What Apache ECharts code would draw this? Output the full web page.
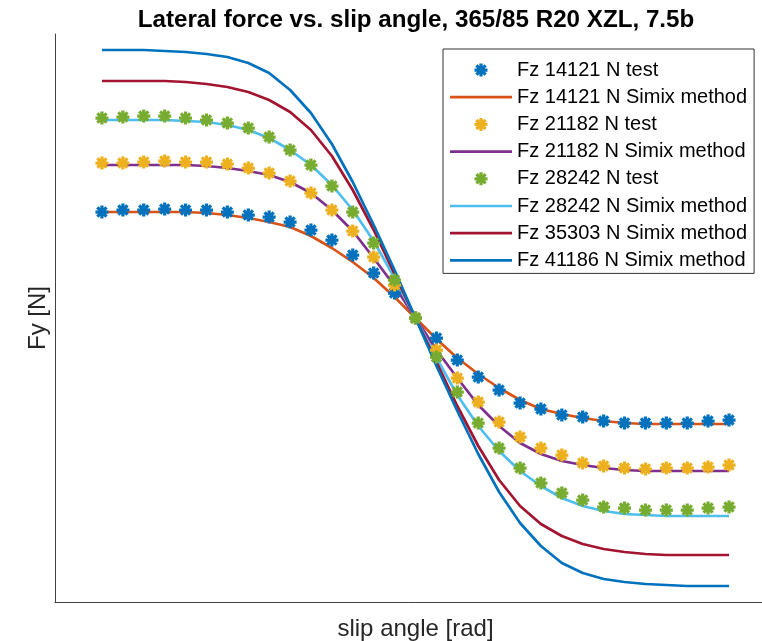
<!DOCTYPE html>
<html>
<head>
<meta charset="utf-8">
<script src="https://cdn.jsdelivr.net/npm/echarts@6/dist/echarts.min.js"></script>
<style>
html,body{margin:0;padding:0;background:#fff;overflow:hidden;}
#chart{width:762px;height:641px;}
</style>
</head>
<body>
<div id="chart"></div>
<script>
// slip angle [rad]
const slipAngle = [-0.2618,-0.2443,-0.2269,-0.2094,-0.1920,-0.1745,-0.1571,-0.1396,-0.1222,-0.1047,-0.0873,-0.0698,-0.0524,-0.0349,-0.0175,0,0.0175,0.0349,0.0524,0.0698,0.0873,0.1047,0.1222,0.1396,0.1571,0.1745,0.1920,0.2094,0.2269,0.2443,0.2618];

// measured lateral force Fy [N]
const test14121 = [10600,10800,10800,10900,10800,10800,10600,10300,10100,9600,8800,7800,6300,4500,2500,0,-2000,-4200,-5900,-7200,-8500,-9100,-9700,-9900,-10300,-10500,-10500,-10500,-10500,-10300,-10200];
const test21182 = [15500,15500,15600,15700,15600,15600,15400,15000,14500,13700,12500,10800,8700,6100,3300,0,-3200,-6000,-8400,-10400,-11900,-13000,-13700,-14500,-14800,-15000,-15100,-15000,-15000,-14900,-14700];
const test28242 = [20000,20100,20200,20200,20000,19800,19500,19000,18100,16800,15300,13200,10600,7500,3800,0,-3900,-7400,-10500,-13000,-15000,-16500,-17500,-18200,-18900,-19000,-19200,-19200,-19200,-19000,-18900];

// Simix method Fy [N]
const simix14121 = [10600,10600,10600,10600,10600,10500,10300,10000,9600,9100,8200,7000,5600,4000,2100,0,-2100,-4000,-5600,-7000,-8200,-9100,-9600,-10000,-10300,-10500,-10600,-10600,-10600,-10600,-10600];
const simix21182 = [15300,15300,15300,15300,15300,15200,15000,14700,14300,13600,12500,10800,8700,6000,3200,0,-3200,-6000,-8700,-10800,-12500,-13600,-14300,-14700,-15000,-15200,-15300,-15300,-15300,-15300,-15300];
const simix28242 = [19800,19800,19800,19800,19700,19600,19300,18800,18000,16800,15300,13300,10800,7700,4000,0,-4000,-7700,-10800,-13300,-15300,-16800,-18000,-18800,-19300,-19600,-19700,-19800,-19800,-19800,-19800];
const simix35303 = [23700,23700,23700,23700,23600,23400,23100,22600,21800,20600,18800,16200,12800,8800,4400,0,-4400,-8800,-12800,-16200,-18800,-20600,-21800,-22600,-23100,-23400,-23600,-23700,-23700,-23700,-23700];
const simix41186 = [26800,26800,26800,26700,26600,26400,26100,25500,24500,22800,20500,17400,13600,9300,4800,0,-4800,-9300,-13600,-17400,-20500,-22800,-24500,-25500,-26100,-26400,-26600,-26700,-26800,-26800,-26800];

const seriesNames = [
  'Fz 14121 N test','Fz 14121 N Simix method',
  'Fz 21182 N test','Fz 21182 N Simix method',
  'Fz 28242 N test','Fz 28242 N Simix method',
  'Fz 35303 N Simix method','Fz 41186 N Simix method'
];

const FONT = '"Liberation Sans", Arial, Helvetica, sans-serif';
const ASTERISK = 'path://M-10,-2.5L10,-2.5L10,2.5L-10,2.5Z M-2.5,-10L2.5,-10L2.5,10L-2.5,10Z M5.30,8.84L-8.84,-5.30L-5.30,-8.84L8.84,5.30Z M8.84,-5.30L-5.30,8.84L-8.84,5.30L5.30,-8.84Z';
const LINE_ICON = 'path://M0,0L62,0L62,2.7L0,2.7Z';

function pairs(ys){ return slipAngle.map((x,i)=>[x, ys[i]]); }
function testSeries(name, ys, color){
  return {name, type:'scatter', data:pairs(ys), symbol:ASTERISK, symbolSize:13,
    symbolKeepAspect:true, itemStyle:{color, opacity:1}, emphasis:{disabled:true}, z:2};
}
function lineSeries(name, ys, color){
  return {name, type:'line', data:pairs(ys), symbol:'none', showSymbol:false,
    symbolKeepAspect:true,
    lineStyle:{color, width:2.7}, itemStyle:{color}, emphasis:{disabled:true}, z:2};
}

const chart = echarts.init(document.getElementById('chart'), null, {renderer:'canvas'});
chart.setOption({
  animation:false,
  backgroundColor:'#ffffff',
  title:{
    text:'Lateral force vs. slip angle, 365/85 R20 XZL, 7.5b',
    left:411, top:3, textAlign:'center',
    textStyle:{fontFamily:FONT, fontSize:24.2, fontWeight:'bold', color:'#000'}
  },
  grid:{left:55, width:721, top:34, height:568, containLabel:false, outerBoundsMode:'none'},
  xAxis:{
    type:'value', min:-0.301, max:0.301,
    name:'slip angle [rad]', nameLocation:'middle', nameGap:15,
    nameTextStyle:{fontFamily:FONT, fontSize:24, color:'#262626', verticalAlign:'top'},
    axisLine:{show:true, onZero:false, lineStyle:{color:'#404040', width:1}},
    axisTick:{show:false}, axisLabel:{show:false}, splitLine:{show:false}
  },
  yAxis:{
    type:'value', min:-28400, max:28400,
    name:'Fy [N]', nameLocation:'middle', nameGap:5,
    nameTextStyle:{fontFamily:FONT, fontSize:24, color:'#262626'},
    axisLine:{show:true, onZero:false, lineStyle:{color:'#404040', width:1}},
    axisTick:{show:false}, axisLabel:{show:false}, splitLine:{show:false}
  },
  legend:{
    orient:'vertical', left:443, top:49,
    padding:[10,7,2,7], itemWidth:62, itemHeight:13, itemGap:5.2,
    borderColor:'#333', borderWidth:1, backgroundColor:'#fff',
    textStyle:{fontFamily:FONT, fontSize:20, color:'#000', lineHeight:22},
    data:seriesNames.map(n => n.indexOf('test') >= 0 ? {name:n} : {name:n, icon:LINE_ICON}),
    selectedMode:false
  },
  series:[
    testSeries(seriesNames[0], test14121, '#0072BD'),
    lineSeries(seriesNames[1], simix14121, '#D95319'),
    testSeries(seriesNames[2], test21182, '#EDB120'),
    lineSeries(seriesNames[3], simix21182, '#7E2F8E'),
    testSeries(seriesNames[4], test28242, '#77AC30'),
    lineSeries(seriesNames[5], simix28242, '#4DBEEE'),
    lineSeries(seriesNames[6], simix35303, '#A2142F'),
    lineSeries(seriesNames[7], simix41186, '#0072BD')
  ]
});
</script>
</body>
</html>
